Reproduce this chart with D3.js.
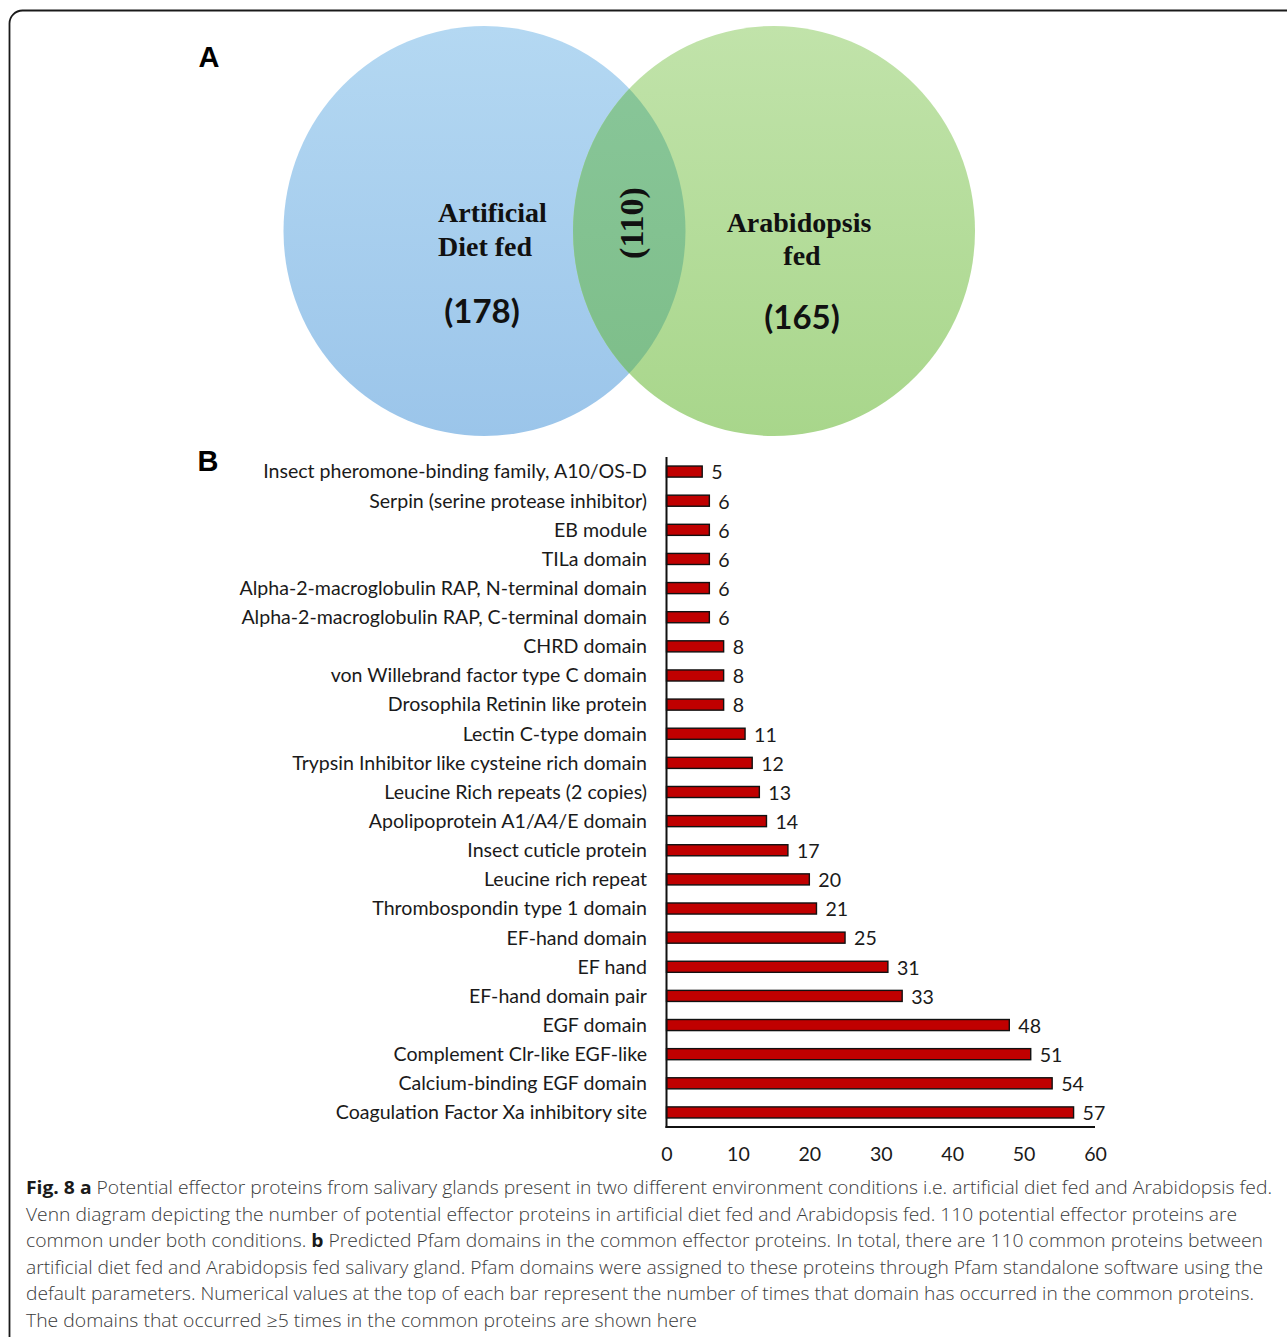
<!DOCTYPE html>
<html>
<head>
<meta charset="utf-8">
<script src="https://cdn.jsdelivr.net/npm/d3@7"></script>
<style>
  html, body { margin: 0; padding: 0; background: #fff; }
  svg { display: block; }
</style>
</head>
<body>
<svg id="chart" width="1287" height="1337"></svg>
<script>
// ---------------- DATA ----------------
const vennSets = ["Artificial Diet fed", "Arabidopsis fed"];
const vennCounts = [178, 165];
const vennOverlap = 110;

const domains = [
  "Insect pheromone-binding family, A10/OS-D",
  "Serpin (serine protease inhibitor)",
  "EB module",
  "TILa domain",
  "Alpha-2-macroglobulin RAP, N-terminal domain",
  "Alpha-2-macroglobulin RAP, C-terminal domain",
  "CHRD domain",
  "von Willebrand factor type C domain",
  "Drosophila Retinin like protein",
  "Lectin C-type domain",
  "Trypsin Inhibitor like cysteine rich domain",
  "Leucine Rich repeats (2 copies)",
  "Apolipoprotein A1/A4/E domain",
  "Insect cuticle protein",
  "Leucine rich repeat",
  "Thrombospondin type 1 domain",
  "EF-hand domain",
  "EF hand",
  "EF-hand domain pair",
  "EGF domain",
  "Complement Clr-like EGF-like",
  "Calcium-binding EGF domain",
  "Coagulation Factor Xa inhibitory site"
];
const counts = [5, 6, 6, 6, 6, 6, 8, 8, 8, 11, 12, 13, 14, 17, 20, 21, 25, 31, 33, 48, 51, 54, 57];
const xTicks = [0, 10, 20, 30, 40, 50, 60];

const captionLines = [
  [["b", "Fig. 8 a"], ["n", " Potential effector proteins from salivary glands present in two different environment conditions i.e. artificial diet fed and Arabidopsis fed."]],
  [["n", "Venn diagram depicting the number of potential effector proteins in artificial diet fed and Arabidopsis fed. 110 potential effector proteins are"]],
  [["n", "common under both conditions. "], ["b", "b"], ["n", " Predicted Pfam domains in the common effector proteins. In total, there are 110 common proteins between"]],
  [["n", "artificial diet fed and Arabidopsis fed salivary gland. Pfam domains were assigned to these proteins through Pfam standalone software using the"]],
  [["n", "default parameters. Numerical values at the top of each bar represent the number of times that domain has occurred in the common proteins."]],
  [["n", "The domains that occurred \u22655 times in the common proteins are shown here"]]
];
const captionWidths = [1246, 1211, 1237, 1237, 1228, 671];

// ---------------- DRAW ----------------
const svg = d3.select("#chart");
const defs = svg.append("defs");

// outer rounded frame
svg.append("rect")
  .attr("x", 9.5).attr("y", 10.5)
  .attr("width", 1300).attr("height", 1360)
  .attr("rx", 13).attr("ry", 13)
  .attr("fill", "none").attr("stroke", "#1a1a1a").attr("stroke-width", 1.8);

// panel letters
svg.append("text").attr("x", 209).attr("y", 67)
  .attr("text-anchor", "middle")
  .style("font-family", "'Liberation Sans', Arial, sans-serif")
  .style("font-weight", "bold").style("font-size", "29px").text("A");
svg.append("text").attr("x", 208).attr("y", 471)
  .attr("text-anchor", "middle")
  .style("font-family", "'Liberation Sans', Arial, sans-serif")
  .style("font-weight", "bold").style("font-size", "29px").text("B");

// ---------- Venn ----------
function grad(id, top, bottom) {
  const g = defs.append("linearGradient").attr("id", id)
    .attr("x1", 0).attr("y1", 0).attr("x2", 0).attr("y2", 1);
  g.append("stop").attr("offset", "0%").attr("stop-color", top);
  g.append("stop").attr("offset", "100%").attr("stop-color", bottom);
}
grad("gBlue", "#b4d8f2", "#9bc5ea");
grad("gGreen", "#c1e3aa", "#a8d68b");
grad("gMix", "#8ac79b", "#7cbd87");

const circ = [
  { cx: 484.5, cy: 231, rx: 201, ry: 205, fill: "url(#gBlue)" },
  { cx: 774, cy: 231, rx: 201, ry: 205, fill: "url(#gGreen)" }
];
const gVenn = svg.append("g");
gVenn.selectAll("ellipse.set").data(circ).enter().append("ellipse")
  .attr("class", "set")
  .attr("cx", d => d.cx).attr("cy", d => d.cy)
  .attr("rx", d => d.rx).attr("ry", d => d.ry)
  .attr("fill", d => d.fill);

defs.append("clipPath").attr("id", "clipLeft")
  .append("ellipse").attr("cx", circ[0].cx).attr("cy", circ[0].cy)
  .attr("rx", circ[0].rx).attr("ry", circ[0].ry);
gVenn.append("ellipse")
  .attr("clip-path", "url(#clipLeft)")
  .attr("cx", circ[1].cx).attr("cy", circ[1].cy)
  .attr("rx", circ[1].rx).attr("ry", circ[1].ry)
  .attr("fill", "url(#gMix)");

const serif = "'Liberation Serif', 'Times New Roman', serif";
const sansB = "Lato, 'Open Sans', sans-serif";

// left set label
const tLeft = gVenn.append("text")
  .style("font-family", serif).style("font-weight", "bold").style("font-size", "28px")
  .attr("fill", "#111");
tLeft.append("tspan").attr("x", 438).attr("y", 222).text("Artificial");
tLeft.append("tspan").attr("x", 438).attr("y", 256).text("Diet fed");
gVenn.append("text").attr("x", 482).attr("y", 323).attr("text-anchor", "middle")
  .style("font-family", sansB).style("font-weight", "bold").style("font-size", "33px")
  .attr("fill", "#111").text("(" + vennCounts[0] + ")");

// right set label
const tRight = gVenn.append("text")
  .style("font-family", serif).style("font-weight", "bold").style("font-size", "28px")
  .attr("fill", "#111").attr("text-anchor", "middle");
tRight.append("tspan").attr("x", 799).attr("y", 232).text("Arabidopsis");
tRight.append("tspan").attr("x", 802).attr("y", 265).text("fed");
gVenn.append("text").attr("x", 802).attr("y", 329).attr("text-anchor", "middle")
  .style("font-family", sansB).style("font-weight", "bold").style("font-size", "33px")
  .attr("fill", "#111").text("(" + vennCounts[1] + ")");

// overlap label, rotated
gVenn.append("text")
  .attr("transform", "translate(643,223) rotate(-90)")
  .attr("text-anchor", "middle")
  .style("font-family", serif).style("font-weight", "bold").style("font-size", "34px")
  .attr("fill", "#111").text("(" + vennOverlap + ")");

// ---------- Bar chart ----------
const x0 = 666.5, x1 = 1095;
const yTop = 457, yBot = 1127;
const x = d3.scaleLinear().domain([0, 60]).range([x0, x1]);
const y = d3.scaleBand().domain(domains).range([yTop, yBot]).paddingInner(0.62).paddingOuter(0.31);

const labelFont = "Lato, 'Open Sans', sans-serif";
const gBar = svg.append("g");

// category labels (fit font size so the longest label spans ~406px)
const probe = gBar.append("text").style("font-family", labelFont).style("font-size", "20px")
  .text(domains[5]);
const w20 = probe.node().getComputedTextLength();
probe.remove();
const labelSize = Math.min(21, 20 * 406 / w20);

gBar.selectAll("text.cat").data(domains).enter().append("text")
  .attr("class", "cat")
  .attr("x", 647)
  .attr("y", d => y(d) + y.bandwidth() / 2)
  .attr("dy", "0.35em")
  .attr("text-anchor", "end")
  .style("font-family", labelFont).style("font-size", labelSize + "px")
  .attr("fill", "#1a1a1a")
  .text(d => d);

gBar.selectAll("rect.bar").data(domains).enter().append("rect")
  .attr("class", "bar")
  .attr("x", x(0))
  .attr("y", d => y(d))
  .attr("width", (d, i) => x(counts[i]) - x(0))
  .attr("height", y.bandwidth())
  .attr("fill", "#c00000").attr("stroke", "#111").attr("stroke-width", 1.4);

gBar.selectAll("text.val").data(domains).enter().append("text")
  .attr("class", "val")
  .attr("x", (d, i) => x(counts[i]) + 9)
  .attr("y", d => y(d) + y.bandwidth() / 2)
  .attr("dy", "0.4em")
  .style("font-family", labelFont).style("font-size", labelSize + "px")
  .attr("fill", "#1a1a1a")
  .text((d, i) => counts[i]);

// axes lines
gBar.append("line").attr("x1", x0).attr("x2", x0).attr("y1", yTop).attr("y2", yBot + 1)
  .attr("stroke", "#111").attr("stroke-width", 2);
gBar.append("line").attr("x1", x0 - 1).attr("x2", x1).attr("y1", yBot).attr("y2", yBot)
  .attr("stroke", "#111").attr("stroke-width", 2);

// tick labels via axis
const axis = d3.axisBottom(x).tickValues(xTicks).tickSize(0).tickPadding(0);
const gAxis = gBar.append("g").attr("transform", `translate(0,${yBot + 20})`).call(axis);
gAxis.select(".domain").remove();
gAxis.selectAll("text")
  .style("font-family", labelFont).style("font-size", labelSize + "px")
  .attr("fill", "#1a1a1a").attr("dy", "0.71em");

// ---------- Caption ----------
const gCap = svg.append("g");
captionLines.forEach((parts, i) => {
  const t = gCap.append("text")
    .attr("x", 26).attr("y", 1194 + i * 26.6)
    .attr("textLength", captionWidths[i]).attr("lengthAdjust", "spacingAndGlyphs")
    .style("font-family", "'Open Sans', 'Noto Sans', sans-serif")
    .style("font-size", "18.5px").attr("fill", "#3a3a3a");
  parts.forEach(p => {
    t.append("tspan").style("font-weight", p[0] === "b" ? "bold" : "300")
      .attr("fill", p[0] === "b" ? "#1a1a1a" : "#3a3a3a")
      .text(p[1]);
  });
});
</script>
</body>
</html>
